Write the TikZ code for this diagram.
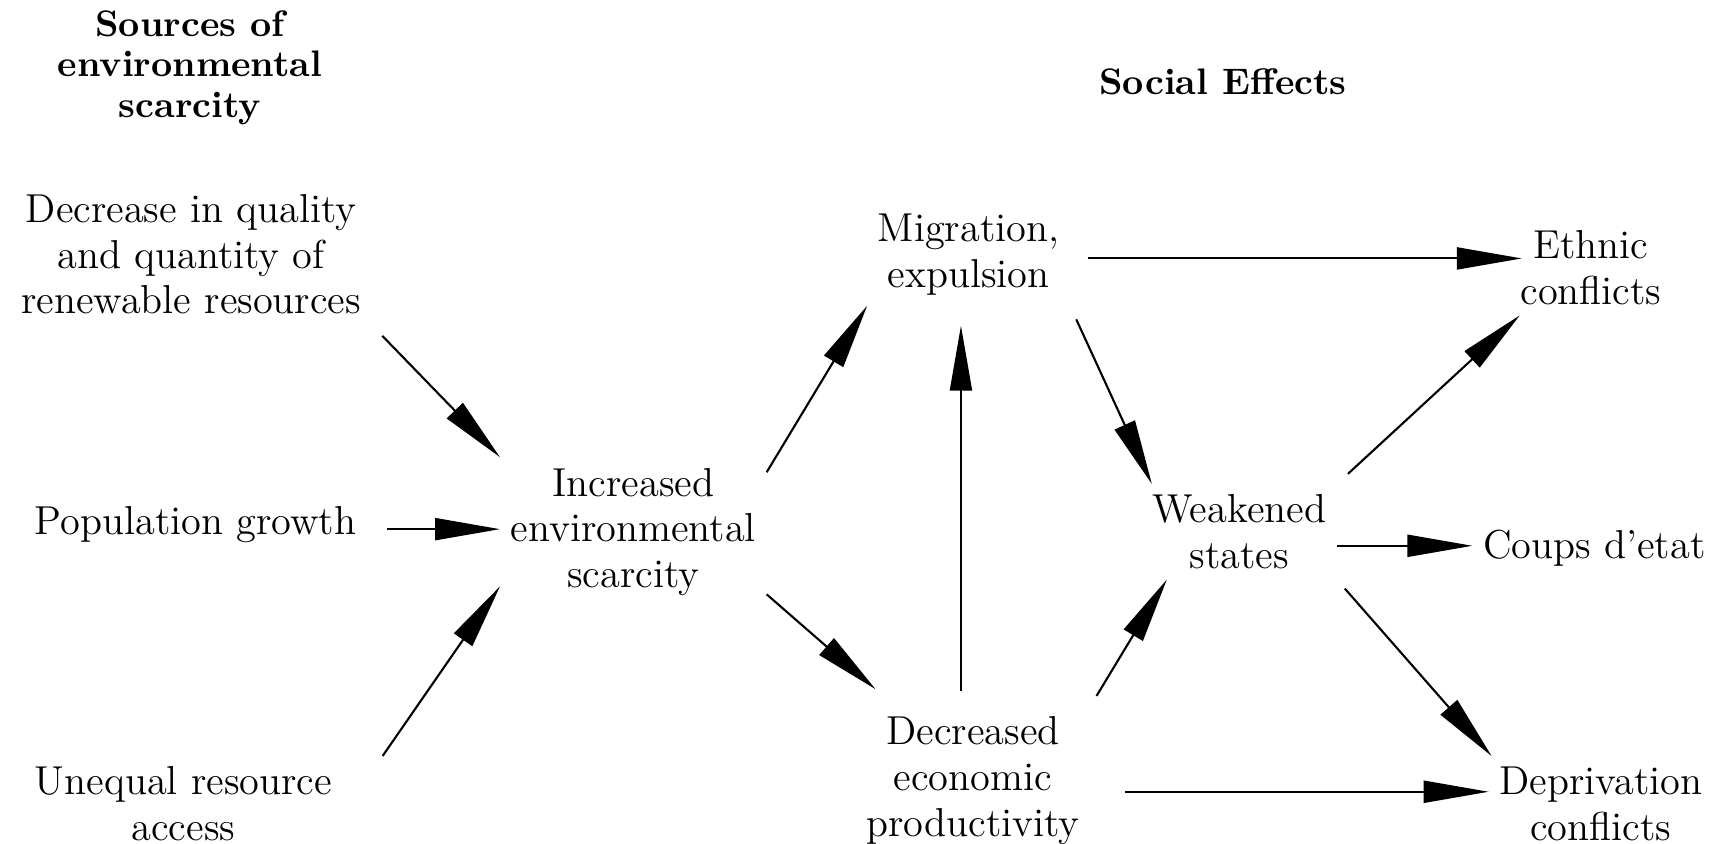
\documentclass[tikz,border=0pt]{standalone}
\usepackage{tikz}
\usetikzlibrary{positioning,arrows.meta,calc}
\tikzset{
  main/.style={align=center, inner sep=1mm, font=\fontsize{11.5}{13}\selectfont},
  head/.style={align=center, inner sep=1mm, font=\fontsize{10.5}{11.6}\selectfont\bfseries},
  connect/.style={-{Triangle[length=6.5mm, width=2.2mm]}, line width=0.6pt}
}

\begin{document}
\begin{tikzpicture}[x=1.092cm, y=1.092cm]
		\useasboundingbox (0,0) rectangle (15.724,7.72);
		% headings
		\node[head] (src) at (1.74,7.10) {Sources of\\environmental\\scarcity};
		\node[head] (soc) at (11.20,6.97) {Social Effects};
		% sources
		\node[main] (dec) at (1.75,5.39) {Decrease in quality\\and quantity of\\renewable resources};
		\node[main] (pop) at (1.79,2.92) {Population growth};
		\node[main] (uneq) at (1.68,0.36) {Unequal resource\\access};
		% scarcity and effects
		\node[main] (inc) at (5.80,2.85) {Increased\\environmental\\scarcity};
		\node[main] (mig) at (8.87,5.39) {Migration,\\expulsion};
		\node[main] (dcr) at (8.91,0.57) {Decreased\\economic\\productivity};
		\node[main] (ws) at (11.35,2.85) {Weakened\\states};
		\node[main] (eth) at (14.57,5.27) {Ethnic\\conflicts};
		\node[main] (cou) at (14.60,2.70) {Coups d'etat};
		\node[main] (dep) at (14.66,0.36) {Deprivation\\conflicts};
		% connectors
		\draw[connect, shorten <=1.5mm] (dec.south east) -- (inc.north west);
		\draw[connect, shorten <=2mm] ([yshift=-0.5mm]pop.east) -- ([yshift=-0.5mm]pop.east -| inc.west);
		\draw[connect] ([xshift=4mm]uneq.north east) -- ([yshift=2mm]inc.south west);
		\draw[connect] ([yshift=-1.5mm]inc.north east) -- (mig.south west);
		\draw[connect] ([yshift=1.2mm]inc.south east) -- ([shift={(2mm,1.7mm)}]dcr.north west);
		\draw[connect, shorten <=1.5mm, shorten >=2mm] ([xshift=-1.2mm]dcr.north) -- ([xshift=-1.2mm]dcr.north |- mig.south);
		\draw[connect, shorten <=1.8mm, shorten >=-1.2mm] ([yshift=-0.4mm]mig.east) -- ([yshift=-0.4mm]mig.east -| eth.west);
		\draw[connect, shorten <=1.5mm] (mig.south east) -- ([xshift=1mm]ws.north west);
		\draw[connect, shorten <=1.2mm] (dcr.north east) -- ([xshift=2.5mm]ws.south west);
		\draw[connect, shorten <=1.5mm] (ws.north east) -- ([xshift=1mm]eth.south west);
		\draw[connect] ([yshift=-1.4mm]ws.east) -- ([yshift=-1.4mm]ws.east -| cou.west);
		\draw[connect, shorten <=1.2mm] (ws.south east) -- ([xshift=0.3mm]dep.north west);
		\draw[connect, shorten <=3.5mm] ([yshift=-1.1mm]dcr.east) -- ([yshift=-1.1mm]dcr.east -| dep.west);
	\end{tikzpicture}
\end{document}
